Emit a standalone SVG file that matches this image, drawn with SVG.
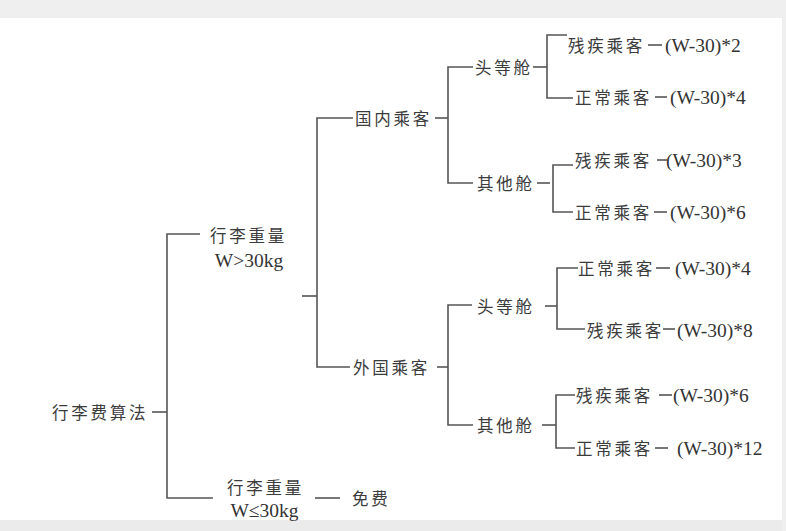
<svg xmlns="http://www.w3.org/2000/svg" width="786" height="531" viewBox="0 0 786 531">
<style>
.c{font-family:"Noto Sans CJK SC","Noto Sans CJK TC",sans-serif;font-size:16.5px;letter-spacing:2.75px;fill:#3c3c3c;dominant-baseline:central}
.l{font-family:"Liberation Serif","Noto Sans CJK SC",serif;font-size:19.5px;fill:#333;dominant-baseline:central}
.m{text-anchor:middle}
#connectors path{fill:none;stroke:#555;stroke-width:1.6}
</style>
<rect x="0" y="0" width="786" height="531" fill="#ffffff"/>
<rect x="0" y="0" width="786" height="18" fill="#efefef"/>
<rect x="0" y="520" width="786" height="11" fill="#ebebeb"/>
<rect x="782" y="0" width="4" height="531" fill="#efefef"/>
<g id="connectors">
<path d="M152,412H167"/>
<path d="M200,234H167V498H213"/>
<path d="M315,498H340"/>
<path d="M302,296H317"/>
<path d="M353,118H317V367H350"/>
<path d="M435,118H448"/>
<path d="M473,67H448V183H473"/>
<path d="M533,67H547"/>
<path d="M567,35H547V98H573"/>
<path d="M648,45H662"/>
<path d="M655,97H667"/>
<path d="M537,183H550"/>
<path d="M573,165H553V212H573"/>
<path d="M657,160H667"/>
<path d="M654,212H667"/>
<path d="M437,367H448"/>
<path d="M472,305H448V425H473"/>
<path d="M545,306H557"/>
<path d="M578,268H557V329H585"/>
<path d="M656,268H670"/>
<path d="M663,329H675"/>
<path d="M542,425H556"/>
<path d="M575,395H556V448H575"/>
<path d="M659,395H672"/>
<path d="M655,448H668"/>
</g>
<g id="root"><text class="c" x="52" y="412">行李费算法</text></g>
<g id="heavy"><text class="c" x="210" y="235">行李重量</text><text class="l m" x="249" y="260">W&gt;30kg</text></g>
<g id="light"><text class="c" x="227" y="487">行李重量</text><text class="l m" x="264.5" y="510">W≤30kg</text></g>
<g id="free"><text class="c" x="352" y="498">免费</text></g>
<g id="domestic"><text class="c" x="355" y="118">国内乘客</text></g>
<g id="foreign"><text class="c" x="353" y="367">外国乘客</text></g>
<g id="dom-first"><text class="c" x="475" y="67">头等舱</text></g>
<g id="dom-other"><text class="c" x="477" y="183">其他舱</text></g>
<g id="dom-first-dis"><text class="c" x="568" y="45">残疾乘客</text><text class="l" x="665" y="45">(W-30)*2</text></g>
<g id="dom-first-norm"><text class="c" x="575" y="97">正常乘客</text><text class="l" x="670" y="97">(W-30)*4</text></g>
<g id="dom-other-dis"><text class="c" x="575" y="160">残疾乘客</text><text class="l" x="666" y="160">(W-30)*3</text></g>
<g id="dom-other-norm"><text class="c" x="575" y="212">正常乘客</text><text class="l" x="670" y="212">(W-30)*6</text></g>
<g id="for-first"><text class="c" x="477" y="306">头等舱</text></g>
<g id="for-other"><text class="c" x="477" y="425">其他舱</text></g>
<g id="for-first-norm"><text class="c" x="578" y="268">正常乘客</text><text class="l" x="675" y="268">(W-30)*4</text></g>
<g id="for-first-dis"><text class="c" x="587" y="330">残疾乘客</text><text class="l" x="677" y="330">(W-30)*8</text></g>
<g id="for-other-dis"><text class="c" x="576" y="395">残疾乘客</text><text class="l" x="673" y="395">(W-30)*6</text></g>
<g id="for-other-norm"><text class="c" x="576" y="448">正常乘客</text><text class="l" x="677" y="448">(W-30)*12</text></g>
</svg>
